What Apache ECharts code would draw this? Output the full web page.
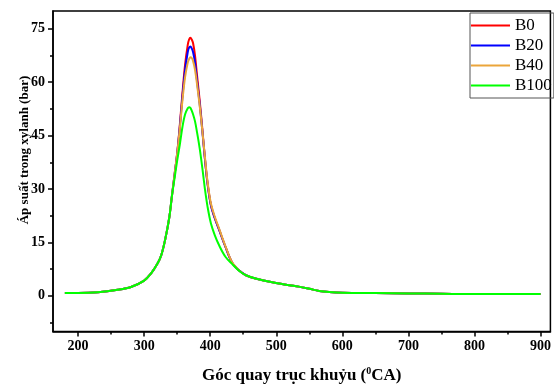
<!DOCTYPE html>
<html>
<head>
<meta charset="utf-8">
<script src="https://cdn.jsdelivr.net/npm/echarts@6/dist/echarts.min.js"></script>
<style>
html,body{margin:0;padding:0;background:#fff;}
#c{width:554px;height:389px;}
</style>
</head>
<body>
<div id="c"></div>
<script>
var angles = [180,200,230,260,280,300,310,320,326,332,338,342,346,350,354,358,362,366,368,370,372,374,377,380,384,388,392,396,401,407,414,423,433,444,454,470,494,520,534,550,565,580,600,650,700,750,800,850,900];
var B0   = [0.8,0.8,1.0,1.7,2.5,4.3,6.2,9,11.5,16,22,28,34,40,48,57,65,70.5,72,72.5,72,71,67.5,62,55,47,38.5,31.5,25.5,21.8,18.3,13.8,9.4,7.1,5.8,4.8,3.8,3.0,2.6,2.0,1.4,1.1,0.9,0.8,0.7,0.6,0.5,0.5,0.5];
var B20  = [0.8,0.8,1.0,1.7,2.5,4.3,6.2,9,11.5,16,22,28,34,40,47.5,56,63.5,68.5,69.7,70,69.5,68.5,65.5,60.5,54,46.5,38.5,31.5,25.5,21.8,18.3,13.8,9.4,7.1,5.8,4.8,3.8,3.0,2.6,2.0,1.4,1.1,0.9,0.8,0.7,0.6,0.5,0.5,0.5];
var B40  = [0.8,0.8,1.0,1.7,2.5,4.3,6.2,9,11.5,16,22,28,34,40,47,55,61.5,65.5,66.5,67,66.8,66,63.5,59.5,53.5,46.5,39,32,26,22.2,18.6,14,9.5,7.1,5.8,4.8,3.8,3.0,2.6,2.0,1.4,1.1,0.9,0.8,0.7,0.6,0.5,0.5,0.5];
var B100 = [0.8,0.8,1.0,1.7,2.5,4.3,6.2,9,11.5,16,22,28,33,38,42.5,47.5,51,52.7,53,52.8,52,51,49,46,41.5,36,30,25,20.4,17,14,11,9,7,5.8,4.8,3.8,3.0,2.6,2.0,1.4,1.1,0.9,0.8,0.7,0.6,0.5,0.5,0.5];
var seriesNames = ['B0','B20','B40','B100'];
var seriesColors = ['#ff0000','#0000ff','#eba53a','#00ff00'];
var xMajor = [200,300,400,500,600,700,800,900];
var xMinor = [250,350,450,550,650,750,850];
var yMajor = [0,15,30,45,60,75];
var yMinor = [-7.5,7.5,22.5,37.5,52.5,67.5];

function pairs(v){ return angles.map(function(a,i){ return [a, v[i]]; }); }
var allValues = [B0,B20,B40,B100];

var font = 'Liberation Serif, Times New Roman, serif';
var chart = echarts.init(document.getElementById('c'));
var X = {min:162, max:915};
var Y = {min:-10, max:80};
chart.setOption({
  animation:false,
  backgroundColor:'#fff',
  grid:{left:53, top:11, right:1, bottom:52, show:true, borderColor:'#000', borderWidth:1.5, backgroundColor:'transparent'},
  xAxis:[{
    type:'value', min:X.min, max:X.max,
    axisLine:{show:true, onZero:false, lineStyle:{color:'#000', width:1.5}},
    axisTick:{show:true, inside:false, length:5, customValues:xMajor, lineStyle:{color:'#000', width:1.5}},
    axisLabel:{customValues:xMajor, color:'#000', fontFamily:font, fontWeight:'bold', fontSize:14, margin:8},
    splitLine:{show:false},
    name:'Góc quay trục khuỷu ({s|0}CA)', nameLocation:'middle', nameGap:35,
    nameTextStyle:{color:'#000', fontFamily:font, fontWeight:'bold', fontSize:17,
      rich:{s:{fontSize:10, fontFamily:font, fontWeight:'bold', verticalAlign:'top', padding:[0,0,8,0]}}}
  },{
    type:'value', min:X.min, max:X.max, position:'bottom',
    axisLine:{show:false, onZero:false},
    axisTick:{show:true, length:3, customValues:xMinor, lineStyle:{color:'#000', width:1.5}},
    axisLabel:{show:false}, splitLine:{show:false}
  }],
  yAxis:[{
    type:'value', min:Y.min, max:Y.max,
    axisLine:{show:true, onZero:false, lineStyle:{color:'#000', width:1.5}},
    axisTick:{show:true, length:5, customValues:yMajor, lineStyle:{color:'#000', width:1.5}},
    axisLabel:{customValues:yMajor, color:'#000', fontFamily:font, fontWeight:'bold', fontSize:14, margin:8},
    splitLine:{show:false}
  },{
    type:'value', min:Y.min, max:Y.max, position:'left',
    axisLine:{show:false, onZero:false},
    axisTick:{show:true, length:3, customValues:yMinor, lineStyle:{color:'#000', width:1.5}},
    axisLabel:{show:false}, splitLine:{show:false}
  }],
  legend:{
    orient:'vertical', left:470, top:13,
    data:seriesNames,
    icon:'rect',
    itemWidth:39, itemHeight:2, itemGap:3,
    padding:[4,2,4,1],
    borderColor:'#555', borderWidth:1,
    textStyle:{color:'#000', fontFamily:font, fontSize:17, lineHeight:17}
  },
  graphic:[{
    type:'text', x:25, y:150, rotation:Math.PI/2,
    style:{text:'Áp suất trong xylanh (bar)', fill:'#000', font:'bold 13px "Liberation Serif", serif', align:'center', verticalAlign:'middle'}
  }],
  series: seriesNames.map(function(n,i){
    return {
      name:n, type:'line', xAxisIndex:0, yAxisIndex:0,
      data:pairs(allValues[i]), showSymbol:false, symbol:'none',
      smooth:0.35,
      lineStyle:{color:seriesColors[i], width:2},
      itemStyle:{color:seriesColors[i]}
    };
  })
});
</script>
</body>
</html>
